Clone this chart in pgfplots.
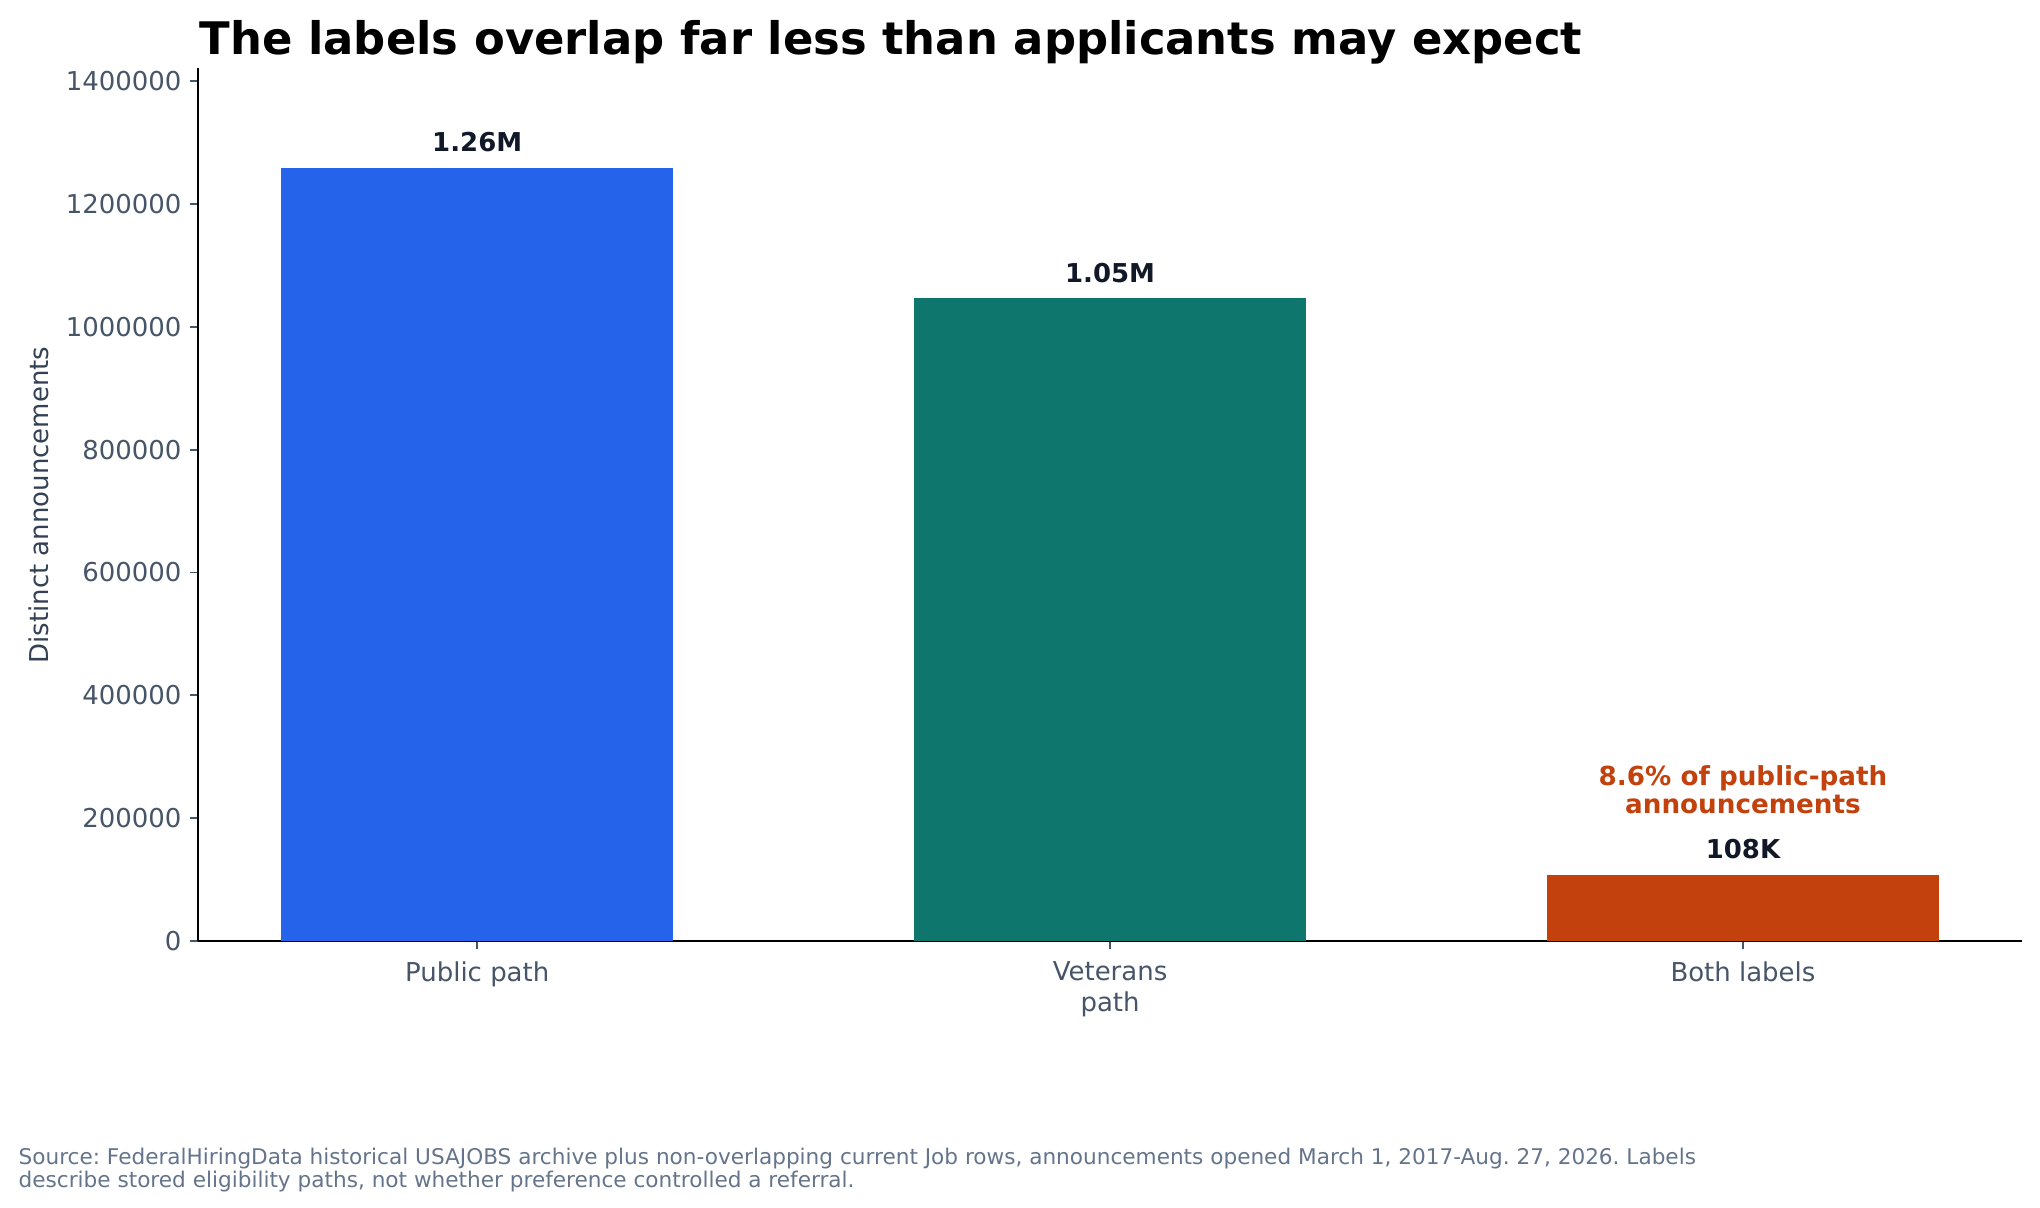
\documentclass[border=0pt]{standalone}
\usepackage{pgfplots}
\pgfplotsset{compat=1.18}
\usepackage{fontspec}
\setmainfont{DejaVu Sans}

\definecolor{pubblue}{HTML}{2563EB}
\definecolor{vetteal}{HTML}{0F766E}
\definecolor{bothorange}{HTML}{C2410C}
\definecolor{labeldark}{HTML}{111827}
\definecolor{tickgray}{HTML}{475569}
\definecolor{ylabgray}{HTML}{334155}
\definecolor{notegray}{HTML}{64748B}

\begin{document}
\frenchspacing
\begin{tikzpicture}
\path[use as bounding box] (-83.9pt,-113pt) rectangle (780.1pt,398.6pt);
\begin{axis}[
    scale only axis,
    width=772.5pt, height=369.8pt,
    ybar, bar width=0.62, bar shift=0pt,
    xmin=-0.441, xmax=2.441,
    ymin=0, ymax=1421000,
    axis x line*=bottom, axis y line*=left,
    axis line style={black, line width=0.8pt, -},
    xtick={0,1,2},
    xticklabels={Public path, Veterans\\path, Both labels},
    ytick={0,200000,400000,600000,800000,1000000,1200000,1400000},
    scaled y ticks=false,
    yticklabel style={/pgf/number format/fixed,
        /pgf/number format/set thousands separator={},
        /pgf/number format/assume math mode=true},
    tick align=outside,
    major tick length=3.5pt,
    tick style={tickgray, line width=0.8pt},
    tick label style={font=\fontsize{11}{13.2}\selectfont, text=tickgray},
    xticklabel style={align=center, yshift=-1.7pt},
    point meta=explicit symbolic,
    nodes near coords,
    every node near coord/.append style={font=\bfseries\fontsize{11}{13}\selectfont,
        text=labeldark, anchor=base, yshift=6.8pt, inner sep=0pt},
    clip=false,
]
\addplot[fill=pubblue, draw=none] coordinates {(0,1259000) [1.26M]};
\addplot[fill=vetteal, draw=none] coordinates {(1,1046000) [1.05M]};
\addplot[fill=bothorange, draw=none] coordinates {(2,108000) [108K]};

% note over the overlap bar
\node[anchor=base, inner sep=0pt, text=bothorange, font=\bfseries\fontsize{11.1}{13}\selectfont]
    at (axis cs:2,254000) {8.6\% of public-path};
\node[anchor=base, inner sep=0pt, text=bothorange, font=\bfseries\fontsize{11.1}{13}\selectfont]
    at (axis cs:2,207600) {announcements};
\end{axis}

\node[rotate=90, anchor=center, inner sep=0pt, text=ylabgray, font=\fontsize{11}{13}\selectfont]
    at (-67.4pt,184.7pt) {Distinct announcements};
\node[anchor=base west, inner sep=0pt, font=\bfseries\fontsize{19}{23}\selectfont]
    at (0.5pt,375.5pt) {The labels overlap far less than applicants may expect};
\node[anchor=base west, inner sep=0pt, text=notegray, font=\fontsize{9.15}{11}\selectfont]
    at (-76.2pt,-94.7pt) {Source: FederalHiringData historical USAJOBS archive plus non-overlapping current Job rows, announcements opened March 1, 2017-Aug. 27, 2026. Labels};
\node[anchor=base west, inner sep=0pt, text=notegray, font=\fontsize{9.15}{11}\selectfont]
    at (-76.2pt,-104.5pt) {describe stored eligibility paths, not whether preference controlled a referral.};
\end{tikzpicture}
\end{document}
